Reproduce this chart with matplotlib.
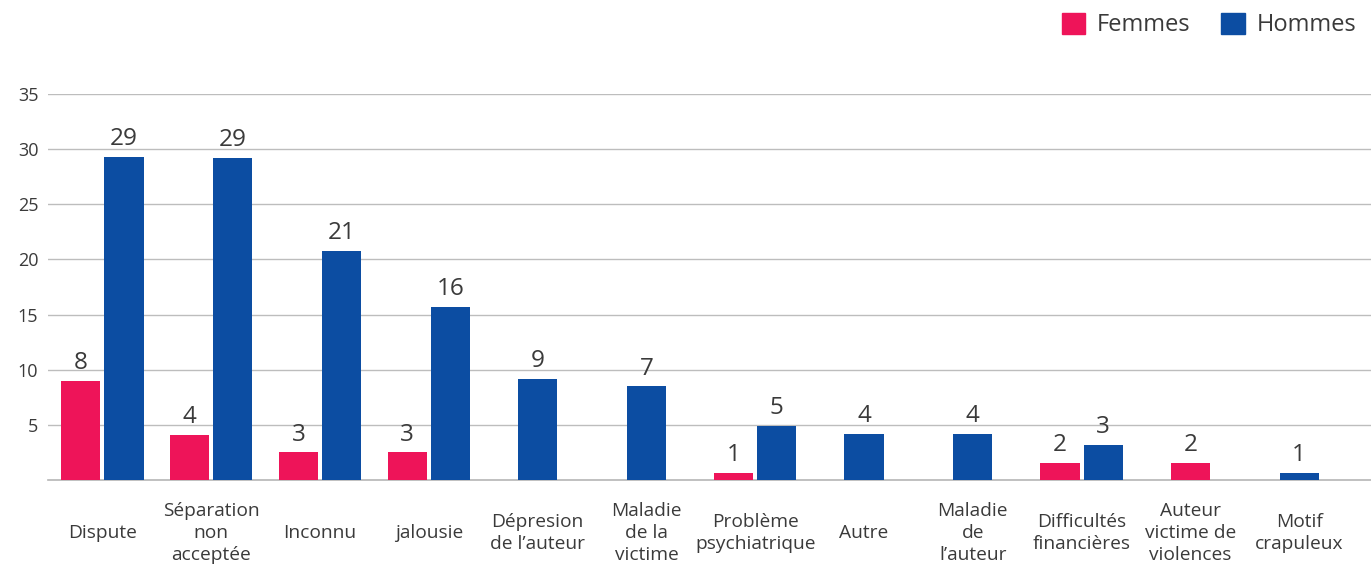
import numpy as np
import matplotlib
matplotlib.use('Agg')
import matplotlib.pyplot as plt
from matplotlib.patches import Patch

# Données
categories = [
    'Dispute', 'Séparation\nnon\nacceptée', 'Inconnu', 'jalousie',
    'Dépresion\nde l’auteur', 'Maladie\nde la\nvictime', 'Problème\npsychiatrique',
    'Autre', 'Maladie\nde\nl’auteur', 'Difficultés\nfinancières',
    'Auteur\nvictime de\nviolences', 'Motif\ncrapuleux',
]
# hauteur des barres (échelle de l'axe) et étiquettes affichées
femmes_hauteur = [9.0, 4.1, 2.5, 2.5, 0, 0, 0.63, 0, 0, 1.57, 1.57, 0]
femmes_label = [8, 4, 3, 3, None, None, 1, None, None, 2, 2, None]
hommes_hauteur = [29.3, 29.2, 20.8, 15.7, 9.16, 8.5, 4.9, 4.17, 4.17, 3.17, 0, 0.63]
hommes_label = [29, 29, 21, 16, 9, 7, 5, 4, 4, 3, None, 1]
yticks = [5, 10, 15, 20, 25, 30, 35]

ROSE = '#EE1459'
BLEU = '#0C4DA2'
TEXTE = '#3a3a3a'

plt.rcParams['font.family'] = ['Open Sans', 'DejaVu Sans']

fig = plt.figure(figsize=(13.71, 5.66), dpi=100)
ax = fig.add_axes([0.035, 0.152, 0.965, 0.682])

x = np.arange(len(categories))
w = 0.36
dx = 0.198

for i in x:
    f, h = femmes_hauteur[i], hommes_hauteur[i]
    bars = []
    if f > 0 and h > 0:
        bars = [(i - dx, f, femmes_label[i], ROSE), (i + dx, h, hommes_label[i], BLEU)]
    elif f > 0:
        bars = [(i, f, femmes_label[i], ROSE)]
    elif h > 0:
        bars = [(i, h, hommes_label[i], BLEU)]
    for xpos, val, lab, col in bars:
        ax.bar(xpos, val, width=w, color=col, zorder=3)
        ax.annotate(str(lab), (xpos, val), xytext=(0, 4), textcoords='offset points',
                    ha='center', va='bottom', fontsize=17.5, color=TEXTE)

for i, lab in enumerate(categories):
    ax.text(i, -0.137, lab, transform=ax.get_xaxis_transform(), ha='center', va='center',
            fontsize=13.8, color=TEXTE, linespacing=1.27)

ax.set_xlim(-0.5, 11.66)
ax.set_ylim(0, 35)
ax.set_yticks(yticks)
ax.set_yticklabels([str(t) for t in yticks], fontsize=13, color=TEXTE)
ax.set_xticks([])
ax.tick_params(axis='y', length=0, pad=7)
ax.grid(axis='y', color='#bdbdbd', linewidth=1, zorder=0)
for s in ['top', 'right', 'left']:
    ax.spines[s].set_visible(False)
ax.spines['bottom'].set_color('#b5b5b5')
ax.spines['bottom'].set_linewidth(1.2)

handles = [Patch(color=ROSE, label='Femmes'), Patch(color=BLEU, label='Hommes')]
fig.legend(handles=handles, loc='upper right', bbox_to_anchor=(1.005, 1.015), ncol=2,
           frameon=False, fontsize=17, handlelength=1, handleheight=1,
           handletextpad=0.5, columnspacing=1.3, labelcolor=TEXTE)

fig.savefig('out.png', dpi=100)
